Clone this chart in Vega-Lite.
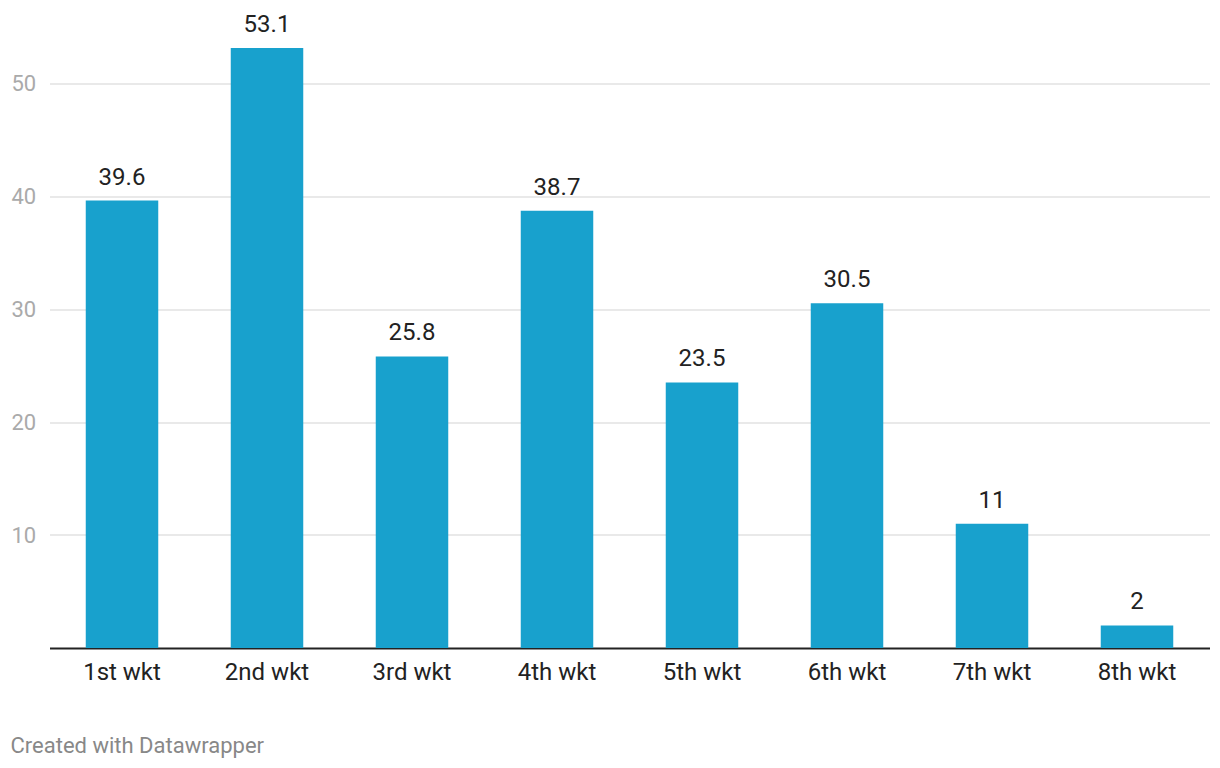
{
  "$schema": "https://vega.github.io/schema/vega-lite/v6.json",
  "width": 1160,
  "height": 621.5,
  "autosize": {"type": "none"},
  "padding": {"left": 49.5, "top": 26.5, "right": 10.5, "bottom": 120},
  "background": "white",
  "config": {
    "font": "Roboto",
    "view": {"stroke": null}
  },
  "title": {
    "text": "Created with Datawrapper",
    "orient": "bottom",
    "anchor": "start",
    "frame": "group",
    "dx": -39,
    "offset": 52,
    "fontSize": 22,
    "fontWeight": "normal",
    "color": "#888888",
    "font": "Roboto"
  },
  "data": {
    "values": [
      {"wicket": "1st wkt", "value": 39.6},
      {"wicket": "2nd wkt", "value": 53.1},
      {"wicket": "3rd wkt", "value": 25.8},
      {"wicket": "4th wkt", "value": 38.7},
      {"wicket": "5th wkt", "value": 23.5},
      {"wicket": "6th wkt", "value": 30.5},
      {"wicket": "7th wkt", "value": 11},
      {"wicket": "8th wkt", "value": 2}
    ]
  },
  "encoding": {
    "x": {
      "field": "wicket",
      "type": "nominal",
      "sort": null,
      "scale": {"paddingInner": 0.5, "paddingOuter": 0.25},
      "axis": {
        "title": null,
        "labelAngle": 0,
        "labelFontSize": 24,
        "labelColor": "#222222",
        "labelPadding": 12,
        "ticks": false,
        "domain": true,
        "domainColor": "#222222",
        "domainWidth": 2,
        "grid": false
      }
    },
    "y": {
      "field": "value",
      "type": "quantitative",
      "scale": {"domain": [0, 55], "nice": false},
      "axis": {
        "title": null,
        "values": [10, 20, 30, 40, 50],
        "labelFontSize": 22,
        "labelColor": "#aaaaaa",
        "labelAlign": "left",
        "labelPadding": 38.5,
        "ticks": false,
        "domain": false,
        "grid": true,
        "gridColor": "#e2e2e2",
        "gridWidth": 1.5
      }
    }
  },
  "layer": [
    {
      "mark": {"type": "bar", "color": "#18a1cd"}
    },
    {
      "mark": {"type": "text", "baseline": "alphabetic", "dy": -16, "fontSize": 24, "color": "#222222"},
      "encoding": {
        "text": {"field": "value", "type": "quantitative"}
      }
    }
  ]
}
